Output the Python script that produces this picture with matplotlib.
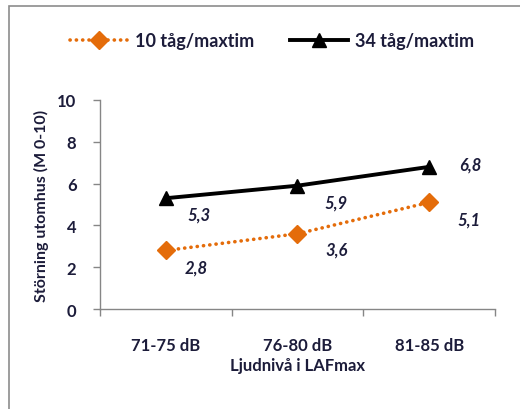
import matplotlib.pyplot as plt
from matplotlib.patches import Rectangle

categories = ['71-75 dB', '76-80 dB', '81-85 dB']
tag_10 = [2.8, 3.6, 5.1]
tag_34 = [5.3, 5.9, 6.8]
labels_10 = ['2,8', '3,6', '5,1']
labels_34 = ['5,3', '5,9', '6,8']

plt.rcParams['font.family'] = ['Lato', 'DejaVu Sans']
plt.rcParams['font.weight'] = 'bold'
plt.rcParams['axes.labelweight'] = 'bold'

orange = '#E46C0A'
navy = '#1C1C3A'
grey = '#868686'

fig = plt.figure(figsize=(5.2, 4.1), dpi=100)
# outer chart frame
fig.patches.append(Rectangle((9 / 520, -0.1), 1.2, 1.1 - 7 / 410, transform=fig.transFigure,
                             fill=False, edgecolor='#8C8C8C', lw=1.2))

ax = fig.add_axes([0.1923, 0.2439, 0.7596, 0.5098])
x = range(len(categories))
ax.plot(x, tag_10, color=orange, lw=2.6, ls=(0, (0.05, 1.7)), dash_capstyle='round',
        marker='D', ms=9, label='10 tåg/maxtim')
ax.plot(x, tag_34, color='black', lw=2.8, marker='^', ms=10, label='34 tåg/maxtim')

off_10 = [(22, -12), (28, -11), (29, -12)]
off_34 = [(24, -12), (28, -12), (30, 2)]
for i in x:
    ax.annotate(labels_10[i], (i, tag_10[i]), xytext=off_10[i], textcoords='offset points',
                ha='center', va='center', fontsize=12, style='italic', weight='bold', color=navy)
    ax.annotate(labels_34[i], (i, tag_34[i]), xytext=off_34[i], textcoords='offset points',
                ha='center', va='center', fontsize=12, style='italic', weight='bold', color=navy)

ax.set_xlim(-0.5, 2.5)
ax.set_ylim(0, 10)
ax.set_yticks(range(0, 11, 2))
ax.set_xticks(x)
ax.set_xticklabels(categories)
ax.set_xticks([-0.5, 0.5, 1.5, 2.5], minor=True)
ax.tick_params(axis='x', which='major', length=0, pad=20, labelsize=12, labelcolor=navy)
ax.tick_params(axis='x', which='minor', length=5, color=grey, width=1)
ax.tick_params(axis='y', length=5, color=grey, width=1, pad=12, labelsize=12, labelcolor=navy)
for s in ['top', 'right']:
    ax.spines[s].set_visible(False)
for s in ['left', 'bottom']:
    ax.spines[s].set_color(grey)
    ax.spines[s].set_linewidth(1)

ax.set_xlabel('Ljudnivå i LAFmax', fontsize=12, color=navy, labelpad=3)
ax.set_ylabel('Störning utomhus (M 0-10)', fontsize=11.5, color=navy, labelpad=6)

fig.legend(loc='center', bbox_to_anchor=(0.523, 0.898), ncol=2, frameon=False,
           prop={'size': 13, 'weight': 'bold'}, handlelength=3.2, columnspacing=2.0,
           handletextpad=0.4, labelcolor=navy)

fig.savefig('out.png', dpi=100)
